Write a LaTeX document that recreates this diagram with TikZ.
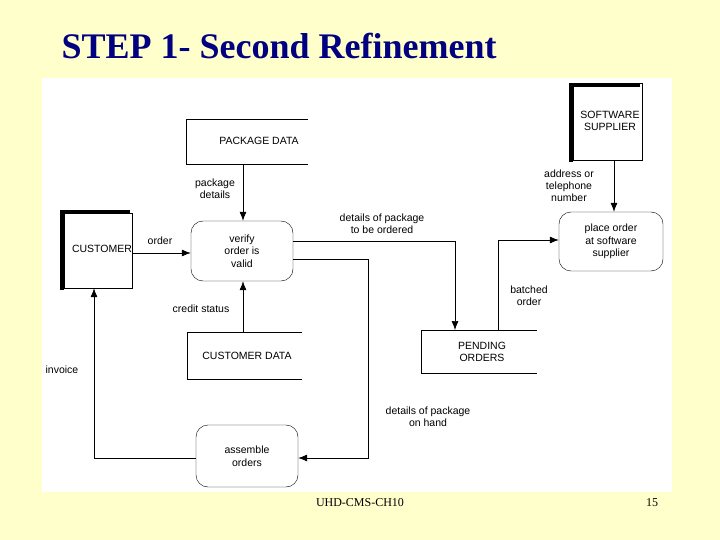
\documentclass[tikz,border=0pt]{standalone}
\usepackage{fontspec}
\setmainfont{Liberation Sans}
\newfontfamily\serif{Liberation Serif}
\usetikzlibrary{arrows.meta}
\definecolor{bgy}{HTML}{FFFFCC}
\definecolor{navy}{HTML}{000080}
\begin{document}
\begin{tikzpicture}[x=1pt,y=-1pt,
  lbl/.style={font=\fontsize{10.5}{12}\selectfont,align=center,inner sep=0pt},
  proc/.style={draw,rounded corners=12pt,font=\fontsize{10.5}{12.5}\selectfont,align=center},
  ent/.style={draw,font=\fontsize{10.5}{12.5}\selectfont,align=center,inner sep=0pt},
  flow/.style={-{Latex[length=9pt,width=7pt]},line width=0.7pt},
  shadow/.style={line width=3.5pt}]
\fill[bgy] (0,0) rectangle (720,540);
\useasboundingbox (0,0) rectangle (720,540);
\fill[white] (42,78) rectangle (672,492);
\node[anchor=west,font=\serif\bfseries\fontsize{36}{40}\selectfont,text=navy] (title) at (58,46) {STEP 1- Second Refinement};
\node[font=\serif\fontsize{12}{14}\selectfont] (foot) at (360,503) {UHD-CMS-CH10};
\node[font=\serif\fontsize{12}{14}\selectfont] (pg) at (652,503) {15};
% data stores
\draw (308,119) -- (186,119) -- (186,164) -- (308,164);
\node[lbl] (pkg) at (259,141) {PACKAGE DATA};
\draw (302,332) -- (187,332) -- (187,379) -- (302,379);
\node[lbl] (cdata) at (247,356) {CUSTOMER DATA};
\draw (537,330) -- (421,330) -- (421,373) -- (537,373);
\node[lbl] (pend) at (482,352) {PENDING\\ORDERS};
% entities
\draw[shadow] (62,290) -- (62,212) -- (130,212);
\node[ent,minimum width=68pt,minimum height=75pt] (cust) at (98,250.5) {};
\node[lbl] (custt) at (102,249) {CUSTOMER};
\draw[shadow] (571,162) -- (571,85) -- (640,85);
\node[ent,minimum width=69pt,minimum height=77pt] (sup) at (607.5,121.5) {};
\node[lbl] (supt) at (610,121) {SOFTWARE\\SUPPLIER};
% processes
\node[proc,minimum width=102pt,minimum height=60pt] (ver) at (242,251) {verify\\order is\\valid};
\node[proc,minimum width=104pt,minimum height=59pt] (place) at (611,241.5) {place order\\at software\\supplier};
\node[proc,minimum width=102pt,minimum height=62pt] (asm) at (247,456) {assemble\\orders};
% flows
\draw[flow] (243,164) -- (ver.north -| 243,0);
\node[lbl] (l1) at (215,189) {package\\details};
\draw[flow] (cust.east |- 0,253) -- (ver.west |- 0,253);
\node[lbl] (l2) at (160,241) {order};
\draw[flow] (ver.east |- 0,241) -- (455,241) -- (455,330);
\node[lbl] (l3) at (382,224) {details of package\\to be ordered};
\draw[flow] (ver.east |- 0,259) -- (368,259) -- (368,458) -- (asm.east |- 0,458);
\node[lbl] (l4) at (428,417) {details of package\\on hand};
\draw[flow] (243,332) -- (ver.south -| 243,0);
\node[lbl] (l5) at (201,309) {credit status};
\draw[flow] (asm.west |- 0,458) -- (94,458) -- (cust.south -| 94,0);
\node[lbl] (l6) at (62,370) {invoice};
\draw[flow] (498,330) -- (498,240) -- (place.west |- 0,240);
\node[lbl] (l7) at (529,296) {batched\\order};
\draw[flow] (sup.south -| 614,0) -- (place.north -| 614,0);
\node[lbl] (l8) at (569,186) {address or\\telephone\\number};
\end{tikzpicture}
\end{document}
